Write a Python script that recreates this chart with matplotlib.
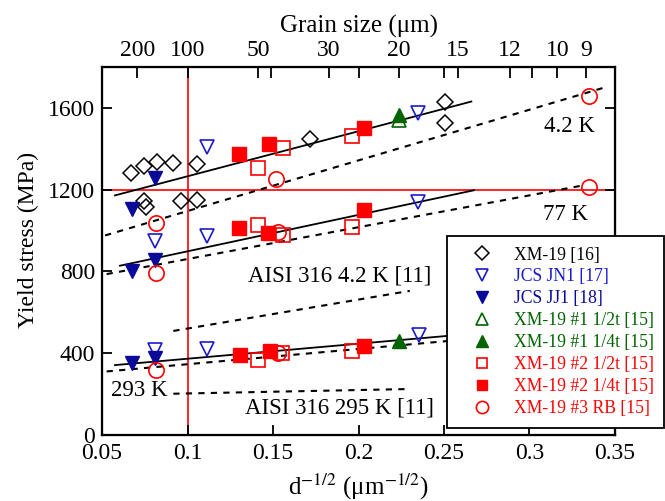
import matplotlib
matplotlib.use('Agg')
import matplotlib.pyplot as plt
import numpy as np

plt.rcParams['font.family'] = ['Liberation Serif', 'DejaVu Serif']
plt.rcParams['mathtext.fontset'] = 'stix'

# ---- data ----
xm19_16_x = [0.0668, 0.0747, 0.0820, 0.0917, 0.1054, 0.0747, 0.0755, 0.0962, 0.1054, 0.1716, 0.2506, 0.2506]
xm19_16_y = [1282, 1317, 1336, 1331, 1325, 1143, 1115, 1143, 1148, 1448, 1628, 1525]

jn1_x = [0.1116, 0.0810, 0.1116, 0.2350, 0.2350, 0.0810, 0.1116, 0.2355]
jn1_y = [1410, 948, 972, 1574, 1140, 418, 421, 487]

jj1_x = [0.0810, 0.0674, 0.0674, 0.0810, 0.0674, 0.0810]
jj1_y = [1258, 1107, 803, 855, 350, 378]

xm1_half_x = [0.2236]
xm1_half_y = [1540]
xm1_quarter_x = [0.2236, 0.2236]
xm1_quarter_y = [1565, 460]

xm2_half_x = [0.1414, 0.1557, 0.1960, 0.1414, 0.1560, 0.1960, 0.1414, 0.1550, 0.1964]
xm2_half_y = [1307, 1402, 1463, 1025, 980, 1016, 365, 402, 410]

xm2_quarter_x = [0.1303, 0.1478, 0.2032, 0.1303, 0.1473, 0.2032, 0.1307, 0.1482, 0.2032]
xm2_quarter_y = [1372, 1421, 1503, 1012, 989, 1099, 393, 410, 434]

xm3_x = [0.0816, 0.1520, 0.3350, 0.0816, 0.1530, 0.3350, 0.0816, 0.1530]
xm3_y = [1038, 1254, 1660, 792, 992, 1214, 320, 402]

# fit lines (end points)
fit_solid = {
    '4.2K': ([0.0576, 0.266], [1172, 1631]),
    '77K': ([0.0605, 0.2675], [828, 1197]),
    '293K': ([0.0576, 0.27], [342, 498]),
}
fit_dashed = {
    '4.2K': ([0.0518, 0.344], [976, 1700]),
    '77K': ([0.0527, 0.3295], [787, 1218]),
    'AISI 4.2K': ([0.0917, 0.230], [509, 705]),
    '293K': ([0.0527, 0.27], [311, 473]),
    'AISI 295K': ([0.0917, 0.230], [202, 225]),
}

grain_labels = [200, 100, 50, 30, 20, 15, 12, 10, 9]
grain_minor = [45, 25, 16, 11]

x_ticks = [0.05, 0.1, 0.15, 0.2, 0.25, 0.3, 0.35]
x_ticklabels = ['0.05', '0.1', '0.15', '0.2', '0.25', '0.3', '0.35']
y_ticks = [0, 400, 800, 1200, 1600]

blue = '#1a1acc'
navy = '#0a0a99'
green = '#006400'
red = '#ff0000'

fig = plt.figure(figsize=(6.65, 5.01), dpi=100)
ax = fig.add_axes([0.1534, 0.1317, 0.7714, 0.7346])

ax.axvline(0.1, color=red, lw=1.2, zorder=1)
ax.axhline(1200, color=red, lw=1.2, zorder=1)

for xs, ys in fit_solid.values():
    ax.plot(xs, ys, color='black', lw=1.3, zorder=2)
for xs, ys in fit_dashed.values():
    ax.plot(xs, ys, color='black', lw=1.5, ls=(0, (3, 3)), zorder=2)

kw = dict(ls='none', ms=10, zorder=3)
h = []
h += ax.plot(xm19_16_x, xm19_16_y, marker='D', mfc='none', mec='black', mew=1.1, ms=8.5, ls='none', zorder=3)
h += ax.plot(jn1_x, jn1_y, marker='v', mfc='none', mec=blue, mew=1.2, **kw)
h += ax.plot(jj1_x, jj1_y, marker='v', mfc=navy, mec=navy, **kw)
h += ax.plot(xm1_half_x, xm1_half_y, marker='^', mfc='none', mec=green, mew=1.2, **kw)
h += ax.plot(xm1_quarter_x, xm1_quarter_y, marker='^', mfc=green, mec=green, **kw)
h += ax.plot(xm2_half_x, xm2_half_y, marker='s', mfc='none', mec=red, mew=1.2, ms=9.5, ls='none', zorder=3)
h += ax.plot(xm2_quarter_x, xm2_quarter_y, marker='s', mfc=red, mec=red, ms=9.5, ls='none', zorder=3)
h += ax.plot(xm3_x, xm3_y, marker='o', mfc='none', mec=red, mew=1.2, ms=11, ls='none', zorder=3)

ax.set_xlim(0.05, 0.35)
ax.set_ylim(0, 1800)
ax.set_xticks(x_ticks)
ax.set_xticklabels(x_ticklabels)
ax.set_yticks(y_ticks)
ax.tick_params(direction='in', length=7, width=1.3, labelsize=17, top=False, right=True)
ax.tick_params(axis='x', pad=5.5)
ax.tick_params(axis='y', pad=5)
for s in ax.spines.values():
    s.set_linewidth(1.6)
ax.set_xlabel('d$^{-1/2}$ (μm$^{-1/2}$)', fontsize=18, labelpad=6)
ax.set_ylabel('Yield stress (MPa)', fontsize=17)
ax.yaxis.set_label_coords(-0.122, 0.53)

# top axis: grain size
ax2 = ax.twiny()
ax2.set_xlim(ax.get_xlim())
ax2.set_xticks([d ** -0.5 for d in grain_labels])
ax2.set_xticklabels([str(d) for d in grain_labels])
ax2.set_xticks([d ** -0.5 for d in grain_minor], minor=True)
ax2.tick_params(which='both', direction='in', length=8, width=1.3, labelsize=17, pad=4)
ax2.set_xlabel('Grain size (μm)', fontsize=18, labelpad=6)

# annotations
ax.text(0.3236, 1510, '4.2 K', fontsize=16.5, ha='center', va='center')
ax.text(0.3208, 1077, '77 K', fontsize=16.5, ha='center', va='center')
ax.text(0.189, 777, 'AISI 316 4.2 K [11]', fontsize=16.5, ha='center', va='center')
ax.text(0.0718, 216, '293 K', fontsize=16.5, ha='center', va='center')
ax.text(0.1886, 131, 'AISI 316 295 K [11]', fontsize=16.5, ha='center', va='center')

labels = ['XM-19 [16]', 'JCS JN1 [17]', 'JCS JJ1 [18]', 'XM-19 #1 1/2t [15]',
          'XM-19 #1 1/4t [15]', 'XM-19 #2 1/2t [15]', 'XM-19 #2 1/4t [15]', 'XM-19 #3 RB [15]']
label_colors = ['black', blue, navy, green, green, red, red, red]
leg = fig.legend(h, labels, loc='upper left', bbox_to_anchor=(0.672, 0.529),
                 bbox_transform=fig.transFigure, borderaxespad=0, fontsize=12.7,
                 labelcolor=label_colors, fancybox=False, framealpha=1,
                 edgecolor='black', markerscale=0.8, handletextpad=0.4,
                 labelspacing=0.28, borderpad=0.6, handlelength=2.8)
leg.get_frame().set_linewidth(1.3)
leg.set_zorder(10)

fig.savefig('out.png', dpi=100)
